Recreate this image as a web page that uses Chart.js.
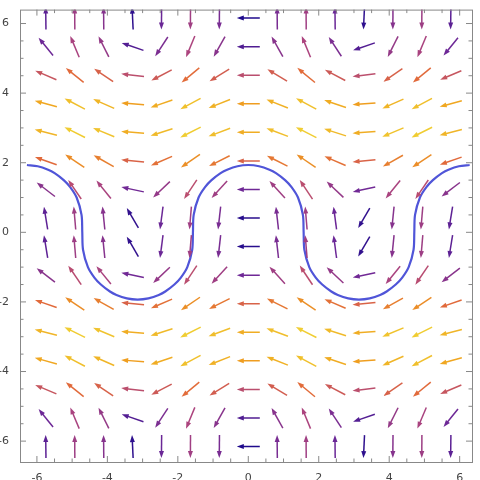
<!DOCTYPE html>
<html><head><script src="https://cdn.jsdelivr.net/npm/chart.js"></script>
<style>html,body{margin:0;background:#fff}#w{width:480px;height:480px}</style></head>
<body><div id="w"><canvas id="c"></canvas></div>
<script>
// grid positions
const colX = [-5.747,-4.926,-4.105,-3.284,-2.463,-1.642,-0.821,0,0.821,1.642,2.463,3.284,4.105,4.926,5.747];
const rowY = [6.157,5.336,4.515,3.694,2.873,2.052,1.231,0.410,-0.410,-1.231,-2.052,-2.873,-3.694,-4.515,-5.336,-6.157];
// horizontal component per row, vertical component per column
const rowVx = [-0.0066,-0.412,-1.202,-1.855,-1.964,-1.461,-0.666,-0.083,-0.083,-0.666,-1.461,-1.964,-1.855,-1.202,-0.412,-0.0066];
const colVy = [0.510,0.977,0.822,0.142,-0.629,-0.997,-0.732,0,0.732,0.997,0.629,-0.142,-0.822,-0.977,-0.510];
// half arch of the blue curve (x from 0 to pi)
const archX = [0,0.306,0.601,0.786,1.044,1.228,1.411,1.55,1.571,1.592,1.731,1.914,2.098,2.356,2.541,2.836,3.1416];
const archY = [1.934,1.9,1.8,1.7,1.5,1.3,1.0,0.5,0,-0.5,-1.0,-1.3,-1.5,-1.7,-1.8,-1.9,-1.934];
const xTicks=[-6,-4,-2,0,2,4,6], yTicks=[-6,-4,-2,0,2,4,6];

const P=Math.PI*2;
let s1=archX.map((x,i)=>({x:-P+x,y:archY[i]}));
let s2=archX.map((x,i)=>({x:-x,y:archY[i]})).reverse();
let s3=archX.map((x,i)=>({x:x,y:archY[i]}));
let s4=archX.map((x,i)=>({x:P-x,y:archY[i]})).reverse();
const curve=[...s1,...s2.slice(1),...s3.slice(1),...s4.slice(1)];

const stops=[[0,[30,10,140]],[0.3,[110,40,150]],[0.5,[175,70,125]],[0.7,[225,105,60]],[0.85,[240,160,30]],[1,[240,205,50]]];
function col(t){t=Math.max(0,Math.min(1,t));for(let i=1;i<stops.length;i++){if(t<=stops[i][0]){const a=stops[i-1],b=stops[i];const u=(t-a[0])/(b[0]-a[0]);const c=a[1].map((v,k)=>Math.round(v+(b[1][k]-v)*u));return `rgb(${c})`;}}return 'rgb(240,205,50)';}

const arrows={id:'arrows',afterDatasetsDraw(ch){const xs=ch.scales.x,ys=ch.scales.y,c=ch.ctx;const L=23;
 let mx=0;rowVx.forEach(a=>colVy.forEach(b=>{mx=Math.max(mx,Math.hypot(a,b))}));
 c.save();c.beginPath();c.rect(ch.chartArea.left,ch.chartArea.top,ch.chartArea.right-ch.chartArea.left,ch.chartArea.bottom-ch.chartArea.top);c.clip();
 rowY.forEach((y,j)=>colX.forEach((x,i)=>{const vx=rowVx[j],vy=colVy[i];const m=Math.hypot(vx,vy);if(m===0)return;
  const px=xs.getPixelForValue(x),py=ys.getPixelForValue(y);const dx=vx/m,dy=-vy/m;
  const x0=px-dx*L/2,y0=py-dy*L/2,x1=px+dx*L/2,y1=py+dy*L/2;const cl=col(m/mx);
  c.strokeStyle=cl;c.fillStyle=cl;c.lineWidth=1.5;c.beginPath();c.moveTo(x0,y0);c.lineTo(x1-dx*5,y1-dy*5);c.stroke();
  c.beginPath();c.moveTo(x1,y1);c.lineTo(x1-dx*7-dy*2.5,y1-dy*7+dx*2.5);c.lineTo(x1-dx*7+dy*2.5,y1-dy*7-dx*2.5);c.closePath();c.fill();}));
 c.restore();
 c.strokeStyle='#888';c.lineWidth=1;const a=ch.chartArea;c.strokeRect(a.left+0.5,a.top+0.5,a.right-a.left,a.bottom-a.top);
 c.beginPath();for(let v=-6;v<=6;v+=0.5){const big=Number.isInteger(v/2);const l=big?6:3.5;const px=xs.getPixelForValue(v);c.moveTo(px,a.bottom);c.lineTo(px,a.bottom-l);c.moveTo(px,a.top);c.lineTo(px,a.top+l);const py=ys.getPixelForValue(v);c.moveTo(a.left,py);c.lineTo(a.left+l,py);c.moveTo(a.right,py);c.lineTo(a.right-l,py);}c.stroke();
}};

new Chart(document.getElementById('c'),{type:'scatter',
 data:{datasets:[{data:curve,showLine:true,borderColor:'#5055d8',borderWidth:2.2,pointRadius:0,tension:0.3,fill:false}]},
 options:{animation:false,responsive:true,maintainAspectRatio:false,events:[],
  layout:{padding:{left:0,right:8,top:5,bottom:0}},
  plugins:{legend:{display:false},tooltip:{enabled:false}},
  scales:{
   x:{type:'linear',min:-6.48,max:6.35,afterBuildTicks(s){s.ticks=xTicks.map(v=>({value:v}))},afterFit(s){s.height=18},
      grid:{display:false},border:{display:false},ticks:{color:'#444',font:{size:11,family:'DejaVu Sans'},padding:2,maxRotation:0}},
   y:{type:'linear',min:-6.6,max:6.4,afterBuildTicks(s){s.ticks=yTicks.map(v=>({value:v}))},afterFit(s){s.width=20},
      grid:{display:false},border:{display:false},ticks:{color:'#444',font:{size:11,family:'DejaVu Sans'},padding:3}}
  }},
 plugins:[arrows]});
</script></body></html>
